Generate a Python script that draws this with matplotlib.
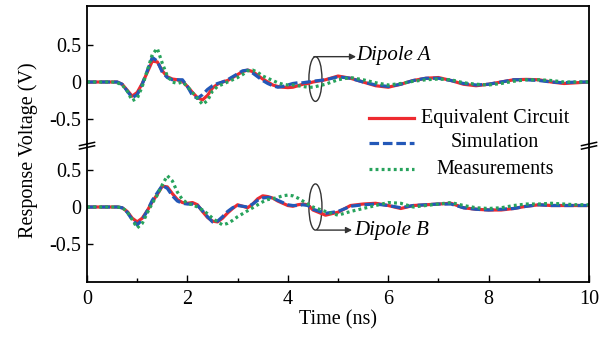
import numpy as np
import matplotlib
matplotlib.use("Agg")
import matplotlib.pyplot as plt
from matplotlib.patches import Ellipse

plt.rcParams['font.family'] = ['Liberation Serif', 'DejaVu Serif']

# time grid (ns)
t = [0, 0.5, 0.6, 0.7, 0.8, 0.9, 1.0, 1.1, 1.2, 1.3, 1.4, 1.5, 1.6, 1.7, 1.8, 1.9,
     2.0, 2.1, 2.2, 2.3, 2.4, 2.5, 2.6, 2.7, 2.8, 2.9, 3.0, 3.1, 3.2, 3.3, 3.4, 3.5,
     3.6, 3.7, 3.8, 3.9, 4.0, 4.1, 4.2, 4.3, 4.4, 4.5, 4.75, 5.0, 5.25, 5.5, 5.75,
     6.0, 6.25, 6.5, 6.75, 7.0, 7.25, 7.5, 7.75, 8.0, 8.25, 8.5, 8.75, 9.0, 9.25,
     9.5, 9.75, 10.0]

# Dipole A (upper trace)
circuit_a = [0, 0, 0, -0.03, -0.11, -0.19, -0.14, -0.02, 0.13, 0.28, 0.27, 0.15, 0.07, 0.04, 0.03, 0.01,
             -0.06, -0.14, -0.21, -0.24, -0.18, -0.08, -0.03, 0.0, 0.02, 0.06, 0.10, 0.14, 0.16, 0.14, 0.09, 0.04,
             0.0, -0.04, -0.06, -0.07, -0.075, -0.07, -0.05, -0.03, -0.02, 0.0, 0.03, 0.08, 0.05, 0.0, -0.05,
             -0.07, -0.03, 0.02, 0.05, 0.06, 0.02, -0.03, -0.05, -0.03, 0.0, 0.03, 0.035, 0.03, 0.0,
             -0.02, -0.01, 0.0]
sim_a = [0, 0, 0, -0.03, -0.12, -0.21, -0.17, -0.03, 0.15, 0.33, 0.28, 0.13, 0.06, 0.03, 0.03, 0.03,
         -0.06, -0.18, -0.22, -0.17, -0.10, -0.05, -0.02, 0.0, 0.03, 0.07, 0.11, 0.15, 0.16, 0.12, 0.07, 0.02,
         -0.02, -0.05, -0.07, -0.06, -0.04, -0.02, -0.01, -0.01, 0.0, 0.01, 0.03, 0.07, 0.05, 0.0, -0.04,
         -0.06, -0.03, 0.02, 0.05, 0.05, 0.02, -0.02, -0.04, -0.03, 0.0, 0.03, 0.03, 0.02, 0.0,
         -0.01, 0.0, 0.0]
meas_a = [0, 0, -0.01, -0.04, -0.12, -0.25, -0.22, -0.06, 0.15, 0.37, 0.45, 0.25, 0.08, 0.0, -0.02, 0.0,
          -0.06, -0.14, -0.22, -0.30, -0.25, -0.12, -0.06, -0.03, 0.0, 0.03, 0.06, 0.10, 0.15, 0.16, 0.13, 0.08,
          0.05, 0.02, -0.01, -0.03, -0.04, -0.04, -0.05, -0.06, -0.07, -0.07, -0.03, 0.03, 0.06, 0.03, -0.01,
          -0.04, -0.02, 0.01, 0.03, 0.04, 0.03, -0.01, -0.03, -0.04, -0.02, 0.01, 0.03, 0.03, 0.02,
          0.0, 0.0, 0.0]

# Dipole B (lower trace)
circuit_b = [0, 0, 0, -0.01, -0.06, -0.15, -0.20, -0.15, -0.05, 0.07, 0.17, 0.28, 0.27, 0.18, 0.10, 0.06,
             0.05, 0.06, 0.03, -0.06, -0.14, -0.19, -0.20, -0.15, -0.08, -0.02, 0.03, 0.01, -0.01, 0.04, 0.11, 0.15,
             0.14, 0.12, 0.08, 0.05, 0.02, 0.01, 0.03, 0.04, 0.03, -0.04, -0.11, -0.07, 0.02, 0.04, 0.05,
             0.02, -0.02, 0.02, 0.03, 0.04, 0.05, -0.01, -0.03, -0.04, -0.04, -0.02, 0.01, 0.03, 0.02,
             0.02, 0.02, 0.02]
sim_b = [0, 0, 0, -0.01, -0.07, -0.17, -0.24, -0.17, -0.05, 0.09, 0.19, 0.29, 0.25, 0.15, 0.08, 0.05,
         0.04, 0.04, 0.02, -0.05, -0.13, -0.20, -0.19, -0.13, -0.06, -0.01, 0.02, 0.01, 0.0, 0.04, 0.09, 0.12,
         0.13, 0.12, 0.09, 0.06, 0.03, 0.02, 0.02, 0.03, 0.02, -0.03, -0.085, -0.06, 0.01, 0.03, 0.04,
         0.02, -0.01, 0.02, 0.03, 0.04, 0.04, -0.01, -0.03, -0.04, -0.03, -0.02, 0.01, 0.03, 0.02,
         0.02, 0.02, 0.02]
meas_b = [0, 0, 0, -0.01, -0.06, -0.17, -0.28, -0.22, -0.08, 0.05, 0.16, 0.30, 0.42, 0.35, 0.20, 0.10,
          0.05, 0.03, 0.0, -0.04, -0.09, -0.15, -0.20, -0.24, -0.22, -0.18, -0.13, -0.09, -0.05, -0.01, 0.03, 0.07,
          0.10, 0.11, 0.13, 0.15, 0.16, 0.15, 0.12, 0.08, 0.04, 0.0, -0.06, -0.11, -0.06, -0.02, 0.02,
          0.06, 0.05, 0.0, 0.02, 0.04, 0.06, 0.02, -0.01, -0.02, -0.01, 0.02, 0.04, 0.04, 0.05,
          0.04, 0.03, 0.03]

labels = ['Equivalent Circuit', 'Simulation', 'Measurements']
colors = ['#ee2a30', '#2358b8', '#27a35c']
styles = ['-', (0, (3, 1.2)), (0, (0.9, 1.0))]
lw = 2.3

fig = plt.figure(figsize=(6.06, 3.37), dpi=100)
ax_a = fig.add_axes([0.1436, 0.5727, 0.8284, 0.4095])
ax_b = fig.add_axes([0.1436, 0.1632, 0.8284, 0.4095])

fs = 14.5
for ax, series in ((ax_a, (circuit_a, sim_a, meas_a)), (ax_b, (circuit_b, sim_b, meas_b))):
    for y, c, ls in zip(series, colors, styles):
        ax.plot(t, y, color=c, linestyle=ls, lw=lw)
    ax.set_xlim(0, 10)
    ax.set_yticks([-0.5, 0, 0.5])
    ax.set_yticklabels(['-0.5', '0', '0.5'])
    ax.tick_params(axis='y', direction='in', length=4, width=1, labelsize=fs, pad=4)
    for s in ax.spines.values():
        s.set_linewidth(1.3)

ax_a.set_ylim(-0.832, 1.02)
ax_b.set_ylim(-1.007, 0.846)
ax_a.spines['bottom'].set_visible(False)
ax_b.spines['top'].set_visible(False)
ax_a.set_xticks([])

ax_b.set_xticks([0, 2, 4, 6, 8, 10])
ax_b.set_xticks([1, 3, 5, 7, 9], minor=True)
ax_b.tick_params(axis='x', which='major', direction='in', length=5, width=1, labelsize=fs, pad=6)
ax_b.tick_params(axis='x', which='minor', direction='in', length=3, width=1)
ax_b.set_xlabel('Time (ns)', fontsize=fs, labelpad=1)
fig.text(28 / 606, 1 - 150 / 337, 'Response Voltage (V)', rotation=90,
         ha='center', va='center', fontsize=fs)

# break marks on both spines
for xf in (0.0, 1.0):
    for dy in (-0.025, 0.0):
        ax_b.plot([xf - 0.015, xf + 0.015], [1.0 + dy - 0.012, 1.0 + dy + 0.012],
                  transform=ax_b.transAxes, color='black', lw=1.1, clip_on=False)

# ellipse + arrow annotations
ec = '#333333'
ax_a.add_patch(Ellipse((4.55, 0.04), 0.26, 0.60, fill=False, ec=ec, lw=1))
ax_a.annotate('', xy=(5.36, 0.34), xytext=(4.52, 0.34),
              arrowprops=dict(arrowstyle='-|>', color=ec, lw=1, mutation_scale=9,
                              shrinkA=0, shrinkB=0))
ax_a.text(5.37, 0.36, 'Dipole A', style='italic', fontsize=15, ha='left', va='center')

ax_b.add_patch(Ellipse((4.55, 0.0), 0.26, 0.62, fill=False, ec=ec, lw=1))
ax_b.annotate('', xy=(5.28, -0.31), xytext=(4.58, -0.31),
              arrowprops=dict(arrowstyle='-|>', color=ec, lw=1, mutation_scale=9,
                              shrinkA=0, shrinkB=0))
ax_b.text(5.32, -0.32, 'Dipole B', style='italic', fontsize=15, ha='left', va='center')

# legend drawn by hand on an overlay so the texts are centred like the original
ov = fig.add_axes([0.1436, 0.1632, 0.8284, 0.819])
ov.set_axis_off()
ov.set_xlim(0, 1)
ov.set_ylim(0, 1)
leg_y = [0.594, 0.504, 0.409]
for yf, lab, c, ls in zip(leg_y, labels, colors, styles):
    ov.plot([0.562, 0.652], [yf, yf], color=c, linestyle=ls, lw=lw)
    ov.text(0.813, yf, lab, ha='center', va='center', fontsize=fs)

fig.savefig('out.png', dpi=100)
